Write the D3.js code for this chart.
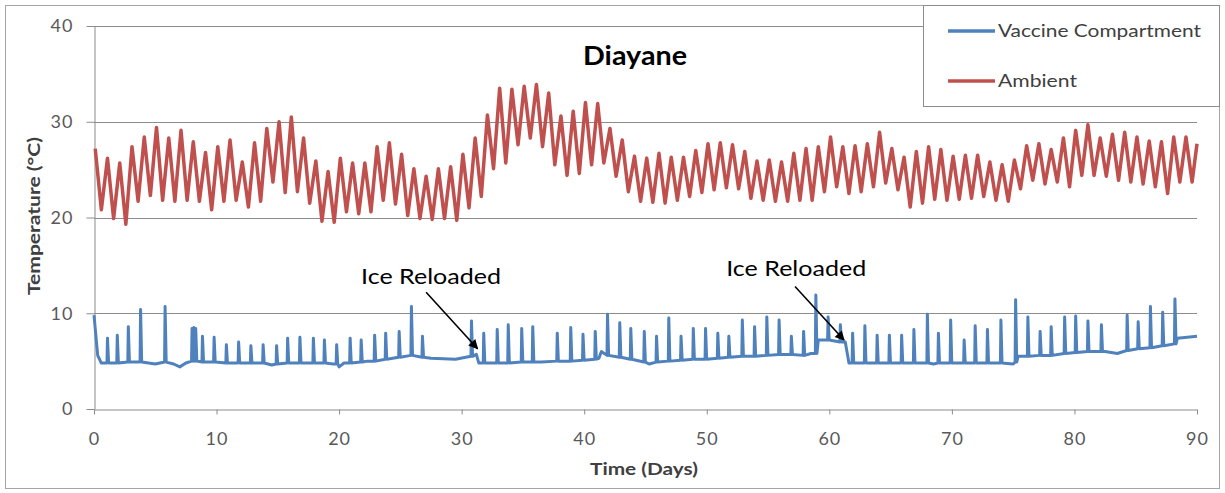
<html>
<head>
<title>Diayane</title>
<script src="https://d3js.org/d3.v7.min.js"></script>
<style>
  body { margin: 0; background: #fff; }
  text { font-family: Lato, "Open Sans", sans-serif; }
</style>
</head>
<body>
<script>
// ambient: daily high / low readings, day 0..89, plus the last value at day 90
const ambientHigh = [27.2, 26.2, 25.7, 27.4, 28.4, 29.4, 28.3, 29.1, 27.9, 26.8,
                     27.4, 28.1, 25.8, 27.8, 29.3, 30.0, 30.5, 28.3, 25.9, 24.8,
                     26.2, 25.7, 25.7, 27.4, 27.8, 26.6, 25.1, 24.3, 25.1, 25.3,
                     26.6, 28.3, 30.7, 33.5, 33.4, 33.7, 33.9, 33.0, 30.6, 31.1,
                     32.0, 31.9, 29.3, 28.1, 26.4, 26.2, 26.7, 26.3, 26.3, 27.0,
                     27.7, 27.8, 27.6, 26.9, 25.9, 26.0, 25.8, 26.7, 27.2, 27.4,
                     28.4, 27.4, 27.5, 27.7, 28.9, 27.2, 26.3, 26.9, 27.4, 27.1,
                     26.4, 26.5, 26.5, 25.8, 25.5, 26.0, 27.5, 27.7, 27.1, 28.3,
                     29.1, 29.7, 28.3, 28.7, 28.9, 28.4, 28.0, 27.9, 28.4, 28.4]
const ambientLow = [20.8, 19.9, 19.3, 21.7, 22.3, 21.8, 21.7, 21.8, 21.7, 20.8,
                    21.7, 21.8, 21.1, 21.7, 23.7, 22.6, 22.7, 21.5, 19.6, 19.5,
                    20.6, 20.4, 20.6, 21.8, 21.4, 20.2, 19.9, 19.8, 19.9, 19.7,
                    21.0, 22.2, 25.1, 25.7, 27.6, 28.3, 27.4, 25.5, 24.4, 24.6,
                    25.5, 25.7, 24.3, 22.7, 21.7, 21.6, 21.5, 21.8, 22.2, 22.6,
                    22.9, 23.1, 23.0, 22.0, 21.8, 21.7, 21.7, 21.8, 21.8, 22.7,
                    23.2, 22.5, 22.7, 23.2, 23.6, 22.9, 21.1, 21.5, 21.9, 21.8,
                    21.9, 22.0, 22.2, 21.8, 21.7, 23.0, 23.9, 23.5, 23.7, 23.2,
                    24.4, 24.4, 24.3, 23.9, 23.7, 23.5, 23.2, 22.5, 23.7, 23.7]
const ambientLast = 27.7

// vaccine compartment: short spikes (day, peak, foot) on a slow baseline
const spikeDay  = [1.1, 1.9, 2.8, 3.8, 5.8, 8.0, 8.15, 8.3, 8.85, 9.8,
                   10.8, 11.8, 12.8, 13.8, 14.9, 15.8, 16.8, 17.9, 18.8, 19.8,
                   20.9, 21.8, 22.9, 23.8, 24.9, 25.9, 26.8, 30.8, 31.8, 32.9,
                   33.8, 34.9, 35.8, 37.8, 38.9, 39.9, 40.9, 41.9, 42.9, 43.8,
                   44.9, 45.9, 46.9, 47.9, 48.9, 49.9, 50.9, 51.8, 52.9, 53.9,
                   54.9, 55.9, 56.9, 57.9, 58.9, 59.9, 60.9, 61.9, 62.9, 63.9,
                   64.9, 65.9, 66.9, 68.0, 68.9, 69.9, 71.0, 71.9, 72.9, 74.0,
                   75.2, 76.2, 77.2, 78.1, 79.2, 80.1, 81.1, 82.2, 84.3, 85.2,
                   86.2, 87.2, 88.2]
const spikeTemp = [7.4, 7.7, 8.6, 10.4, 10.7, 8.4, 8.5, 8.4, 7.6, 7.5,
                   6.7, 7.0, 6.6, 6.7, 6.6, 7.4, 7.5, 7.4, 7.2, 6.7,
                   7.4, 7.2, 7.7, 7.9, 8.1, 10.7, 7.6, 9.2, 7.9, 8.3,
                   8.8, 8.4, 8.6, 7.9, 8.5, 7.8, 8.1, 9.9, 9.0, 8.4,
                   8.1, 7.6, 9.5, 7.6, 8.4, 8.4, 7.9, 7.6, 9.3, 8.6,
                   9.6, 9.3, 7.6, 8.1, 11.9, 9.6, 8.8, 7.9, 8.7, 7.7,
                   7.7, 7.7, 8.3, 9.9, 7.9, 9.3, 7.2, 8.7, 8.3, 9.3,
                   11.4, 9.6, 8.1, 8.6, 9.6, 9.7, 9.2, 8.8, 9.8, 9.1,
                   10.7, 10.1, 11.5]
const spikeFoot = [4.8, 4.8, 4.9, 4.9, 4.9, 5.0, 5.0, 5.0, 4.9, 4.9,
                   4.8, 4.8, 4.8, 4.8, 4.7, 4.8, 4.8, 4.8, 4.8, 4.7,
                   4.8, 4.9, 5.0, 5.2, 5.4, 5.6, 5.4, 5.5, 4.8, 4.8,
                   4.8, 4.9, 4.9, 5.0, 5.0, 5.1, 5.2, 5.6, 5.4, 5.2,
                   4.9, 4.9, 5.0, 5.1, 5.2, 5.2, 5.3, 5.4, 5.5, 5.5,
                   5.6, 5.7, 5.7, 5.6, 5.8, 7.2, 7.0, 4.8, 4.8, 4.8,
                   4.8, 4.8, 4.8, 4.8, 4.8, 4.8, 4.8, 4.8, 4.8, 4.8,
                   4.9, 5.5, 5.6, 5.6, 5.8, 5.9, 6.0, 6.0, 6.1, 6.3,
                   6.4, 6.6, 6.8]
const baseDay  = [0, 0.3, 0.6, 5.0, 6.5, 7.0, 7.5, 14.5, 19.5, 20.0,
                  20.4, 22.3, 27.5, 29.5, 31.2, 31.4, 36.5, 41.2, 41.4, 45.3,
                  58.5, 59.1, 61.3, 61.6, 68.5, 75.0, 75.4, 82.5, 83.5, 84.0,
                  88.4, 90]
const baseTemp = [9.8, 5.6, 4.8, 4.7, 4.7, 4.4, 4.8, 4.6, 4.7, 4.4,
                  4.8, 5.0, 5.3, 5.2, 5.7, 4.8, 4.9, 5.3, 6.0, 4.7,
                  5.8, 7.2, 7.0, 4.8, 4.7, 4.7, 5.5, 6.0, 5.8, 6.0,
                  7.4, 7.6]

const seriesNames = ['Vaccine Compartment', 'Ambient']
const seriesColors = ['#4f81bd', '#c0504d']
const xTicks = [0, 10, 20, 30, 40, 50, 60, 70, 80, 90]
const yTicks = [0, 10, 20, 30, 40]
const notes = [
    {text: 'Ice Reloaded', tx: 27.5, ty: 13.05, fromX: 27.1, fromY: 12.2, toX: 31.3, toY: 6.3},
    {text: 'Ice Reloaded', tx: 57.3, ty: 13.9, fromX: 57.2, fromY: 12.8, toX: 61.2, toY: 7.2}
]

const W = 1225, H = 493

const svg = d3.select('body').append('svg')
    .attr('width', W)
    .attr('height', H)

const x = d3.scaleLinear().domain([0, 90]).range([94, 1197])
const y = d3.scaleLinear().domain([0, 40]).range([409, 26])

// outer chart frame
svg.append('rect')
    .attr('x', 5.5).attr('y', 5.5)
    .attr('width', 1214).attr('height', 483)
    .attr('fill', '#fff')
    .attr('stroke', '#a6a6a6')

// gridlines
svg.append('g').selectAll('line')
    .data(yTicks.filter(d => d > 0))
    .join('line')
    .attr('x1', x(0)).attr('x2', x(90))
    .attr('y1', d => Math.round(y(d)) + 0.5)
    .attr('y2', d => Math.round(y(d)) + 0.5)
    .attr('stroke', '#8c8c8c')
    .attr('stroke-width', 1)

const xAxis = svg.append('g')
    .attr('transform', 'translate(0,' + (Math.round(y(0)) + 0.5) + ')')
    .call(d3.axisBottom(x).tickValues(xTicks).tickSize(5).tickSizeOuter(0).tickPadding(18))
const yAxis = svg.append('g')
    .attr('transform', 'translate(' + (Math.round(x(0)) + 0.5) + ',0)')
    .call(d3.axisLeft(y).tickValues(yTicks).tickSize(8).tickSizeOuter(0).tickPadding(13))

for (const ax of [xAxis, yAxis]) {
    ax.select('.domain').attr('stroke', '#8c8c8c')
    ax.selectAll('.tick line').attr('stroke', '#8c8c8c')
    ax.selectAll('.tick text')
        .attr('fill', '#595959')
        .style('font-family', 'Lato, sans-serif')
        .style('font-size', '18px')
        .style('letter-spacing', '1px')
}

// ambient series
const ambientPts = []
ambientHigh.forEach((v, i) => {
    ambientPts.push([i + 0.1, v])
    ambientPts.push([i + 0.6, ambientLow[i]])
})
ambientPts.push([90, ambientLast])

// vaccine series
const vaccinePts = baseDay.map((d, i) => [d, baseTemp[i]])
spikeDay.forEach((d, i) => {
    vaccinePts.push([d - 0.04, spikeFoot[i]])
    vaccinePts.push([d, spikeTemp[i]])
    vaccinePts.push([d + 0.09, spikeFoot[i]])
})
vaccinePts.sort((a, b) => a[0] - b[0])

const line = d3.line()
    .x(d => x(d[0]))
    .y(d => y(d[1]))

svg.append('path')
    .datum(ambientPts)
    .attr('d', line)
    .attr('fill', 'none')
    .attr('stroke', seriesColors[1])
    .attr('stroke-width', 3.5)
    .attr('stroke-linejoin', 'round')

svg.append('path')
    .datum(vaccinePts)
    .attr('d', line)
    .attr('fill', 'none')
    .attr('stroke', seriesColors[0])
    .attr('stroke-width', 3)
    .attr('stroke-linejoin', 'round')

// title and axis titles
svg.append('text')
    .attr('x', 583).attr('y', 65)
    .attr('textLength', 104)
    .attr('lengthAdjust', 'spacingAndGlyphs')
    .style('font-size', '26px')
    .style('font-weight', 'bold')
    .attr('fill', '#000')
    .text('Diayane')

svg.append('text')
    .attr('x', 590).attr('y', 475)
    .attr('textLength', 108)
    .attr('lengthAdjust', 'spacingAndGlyphs')
    .style('font-size', '17px')
    .style('font-weight', 'bold')
    .attr('fill', '#404040')
    .text('Time (Days)')

svg.append('text')
    .attr('transform', 'translate(40,295) rotate(-90)')
    .attr('textLength', 158)
    .attr('lengthAdjust', 'spacingAndGlyphs')
    .style('font-size', '17px')
    .style('font-weight', 'bold')
    .attr('fill', '#404040')
    .text('Temperature (°C)')

// annotations
svg.append('defs').append('marker')
    .attr('id', 'head')
    .attr('viewBox', '0 0 10 10')
    .attr('refX', 9).attr('refY', 5)
    .attr('markerWidth', 7).attr('markerHeight', 6)
    .attr('orient', 'auto')
    .append('path')
    .attr('d', 'M0,0L10,5L0,10z')
    .attr('fill', '#000')

const note = svg.append('g').selectAll('g')
    .data(notes)
    .join('g')

note.append('text')
    .attr('x', d => x(d.tx) - 70)
    .attr('y', d => y(d.ty))
    .attr('textLength', 140)
    .attr('lengthAdjust', 'spacingAndGlyphs')
    .style('font-size', '22px')
    .attr('fill', '#000')
    .text(d => d.text)

note.append('line')
    .attr('x1', d => x(d.fromX)).attr('y1', d => y(d.fromY))
    .attr('x2', d => x(d.toX)).attr('y2', d => y(d.toY))
    .attr('stroke', '#000')
    .attr('stroke-width', 1.6)
    .attr('marker-end', 'url(#head)')

// legend
const legend = svg.append('g')
legend.append('rect')
    .attr('x', 923.5).attr('y', 5.5)
    .attr('width', 296).attr('height', 101)
    .attr('fill', '#fff')
    .attr('stroke', '#8c8c8c')

const item = legend.selectAll('g')
    .data(seriesNames)
    .join('g')
    .attr('transform', (d, i) => 'translate(948,' + (31 + i * 50) + ')')

item.append('line')
    .attr('x1', 0).attr('x2', 47)
    .attr('stroke', (d, i) => seriesColors[i])
    .attr('stroke-width', 3.5)

item.append('text')
    .attr('x', 50).attr('y', 0)
    .attr('dy', '0.35em')
    .attr('textLength', (d, i) => [203, 79][i])
    .attr('lengthAdjust', 'spacingAndGlyphs')
    .style('font-size', '17px')
    .attr('fill', '#404040')
    .text(d => d)
</script>
</body>
</html>
